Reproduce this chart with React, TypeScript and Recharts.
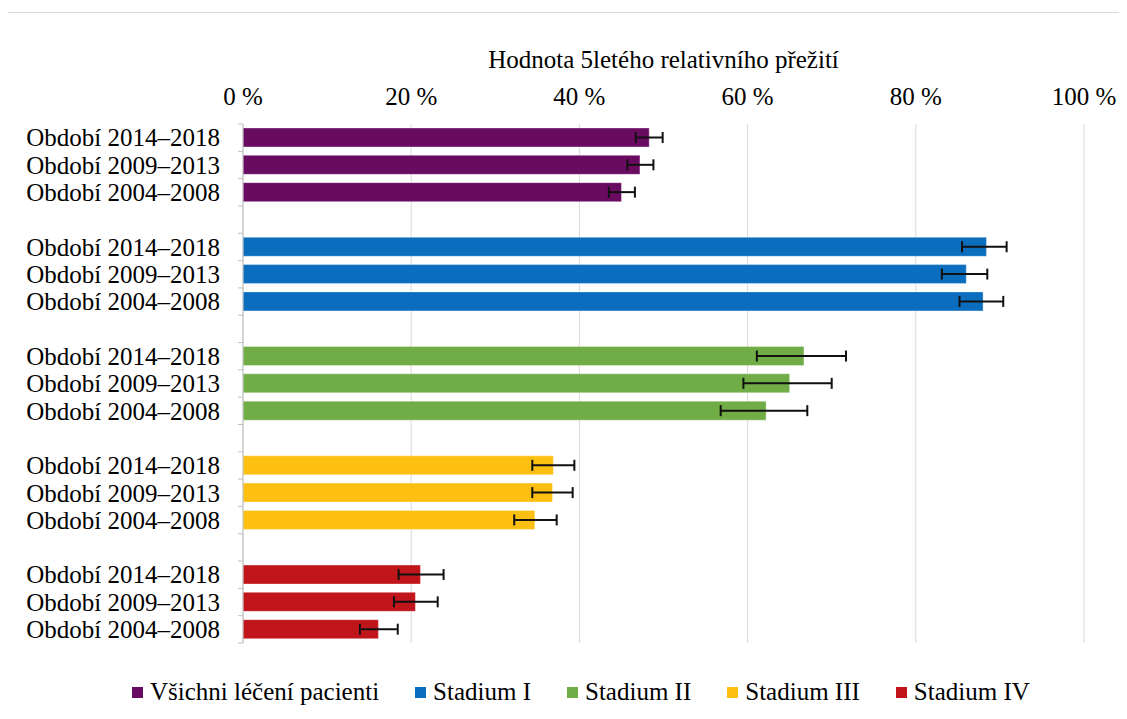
import React from "react";
import {
  BarChart,
  Bar,
  XAxis,
  YAxis,
  CartesianGrid,
  ErrorBar,
  Cell,
} from "recharts";

// ---- data ----
const groupNames = [
  "Všichni léčení pacienti",
  "Stadium I",
  "Stadium II",
  "Stadium III",
  "Stadium IV",
];
const groupColors = ["#690b61", "#0a6dbd", "#70ad47", "#fdbf12", "#c0161b"];
const periods = ["Období 2014–2018", "Období 2009–2013", "Období 2004–2008"];

const allPatients = [48.3, 47.2, 45.0];
const allPatientsErrLow = [1.6, 1.5, 1.5];
const allPatientsErrHigh = [1.6, 1.6, 1.6];

const stage1 = [88.4, 86.0, 88.0];
const stage1ErrLow = [2.9, 2.9, 2.8];
const stage1ErrHigh = [2.4, 2.5, 2.4];

const stage2 = [66.7, 65.0, 62.2];
const stage2ErrLow = [5.6, 5.5, 5.4];
const stage2ErrHigh = [5.0, 5.0, 4.9];

const stage3 = [36.9, 36.8, 34.7];
const stage3ErrLow = [2.5, 2.4, 2.45];
const stage3ErrHigh = [2.5, 2.4, 2.6];

const stage4 = [21.1, 20.5, 16.1];
const stage4ErrLow = [2.6, 2.55, 2.2];
const stage4ErrHigh = [2.75, 2.65, 2.3];

const xTicks = [0, 20, 40, 60, 80, 100];
const axisTitle = "Hodnota 5letého relativního přežití";

const seriesValues = [allPatients, stage1, stage2, stage3, stage4];
const seriesLow = [allPatientsErrLow, stage1ErrLow, stage2ErrLow, stage3ErrLow, stage4ErrLow];
const seriesHigh = [allPatientsErrHigh, stage1ErrHigh, stage2ErrHigh, stage3ErrHigh, stage4ErrHigh];

type Row = {
  id: string;
  label: string;
  value: number | null;
  err: [number, number] | null;
  color: string;
};

const rows: Row[] = [];
groupNames.forEach((_, g) => {
  if (g > 0) {
    rows.push({ id: `gap-${g}`, label: "", value: null, err: null, color: "transparent" });
  }
  periods.forEach((p, i) => {
    rows.push({
      id: `g${g}-p${i}`,
      label: p,
      value: seriesValues[g][i],
      err: [seriesLow[g][i], seriesHigh[g][i]],
      color: groupColors[g],
    });
  });
});

const labelById: Record<string, string> = {};
rows.forEach((r) => (labelById[r.id] = r.label));

// ---- layout ----
const FONT = "'Liberation Serif', 'Times New Roman', serif";
const W = 1127;
const H = 719;
const M = { top: 73, right: 43, bottom: 76, left: 0 };
const Y_AXIS_W = 243;
const X_AXIS_H = 51;
const PLOT_H = H - M.top - M.bottom - X_AXIS_H;
const BAND = PLOT_H / rows.length;

const YTick = (props: any) => {
  const { x, y, payload, index } = props;
  const label = labelById[payload.value] || "";
  const half = BAND / 2;
  return (
    <g>
      <line x1={x - 5} x2={x} y1={y - half} y2={y - half} stroke="#bfbfbf" strokeWidth={1} />
      {index === rows.length - 1 && (
        <line x1={x - 5} x2={x} y1={y + half} y2={y + half} stroke="#bfbfbf" strokeWidth={1} />
      )}
      {label && (
        <text
          x={x - 23}
          y={y}
          dy="0.35em"
          textAnchor="end"
          fontSize={25}
          fontFamily={FONT}
          fill="#000"
        >
          {label}
        </text>
      )}
    </g>
  );
};

export default function App() {
  return (
    <div
      style={{
        position: "relative",
        marginLeft: -8,
        marginTop: -8,
        width: W,
        height: H,
        overflow: "hidden",
        background: "#fff",
        fontFamily: FONT,
      }}
    >
      <div
        style={{
          position: "absolute",
          left: 4,
          top: 12,
          width: W + 20,
          height: H + 20,
          border: "1px solid #d9d9d9",
          boxSizing: "border-box",
        }}
      />
      <div style={{ position: "absolute", left: 0, top: 0 }}>
        <BarChart
          width={W}
          height={H}
          data={rows}
          layout="vertical"
          margin={M}
          barSize={19}
        >
          <CartesianGrid horizontal={false} stroke="#d9d9d9" strokeWidth={1} />
          <XAxis
            type="number"
            orientation="top"
            domain={[0, 100]}
            ticks={xTicks}
            interval={0}
            height={X_AXIS_H}
            axisLine={false}
            tickLine={false}
            tickSize={0}
            tickMargin={19}
            tickFormatter={(v: number) => `${v} %`}
            tick={{ fontSize: 25, fill: "#000", fontFamily: FONT }}
            label={{
              value: axisTitle,
              position: "top",
              offset: 5,
              fill: "#000",
              fontSize: 25,
              fontFamily: FONT,
            }}
          />
          <YAxis
            type="category"
            dataKey="id"
            width={Y_AXIS_W}
            interval={0}
            axisLine={{ stroke: "#bfbfbf", strokeWidth: 1 }}
            tickLine={false}
            tickSize={0}
            tickMargin={0}
            tick={<YTick />}
          />
          <Bar dataKey="value" isAnimationActive={false} stroke="#ffffff" strokeOpacity={0.35} strokeWidth={1}>
            {rows.map((r) => (
              <Cell key={r.id} fill={r.color} />
            ))}
            <ErrorBar
              dataKey="err"
              direction="x"
              width={5.5}
              stroke="#111"
              strokeWidth={2}
              isAnimationActive={false}
            />
          </Bar>
        </BarChart>
      </div>
      <div
        style={{
          position: "absolute",
          left: 132,
          top: 677,
          height: 30,
          display: "flex",
          alignItems: "center",
          fontSize: 25,
          fontFamily: FONT,
          color: "#000",
          whiteSpace: "nowrap",
        }}
      >
        {groupNames.map((n, i) => (
          <div
            key={n}
            style={{
              display: "flex",
              alignItems: "center",
              marginRight: i < groupNames.length - 1 ? 36 : 0,
            }}
          >
            <span
              style={{
                display: "inline-block",
                width: 11,
                height: 11,
                background: groupColors[i],
                marginRight: 7,
              }}
            />
            <span>{n}</span>
          </div>
        ))}
      </div>
    </div>
  );
}
